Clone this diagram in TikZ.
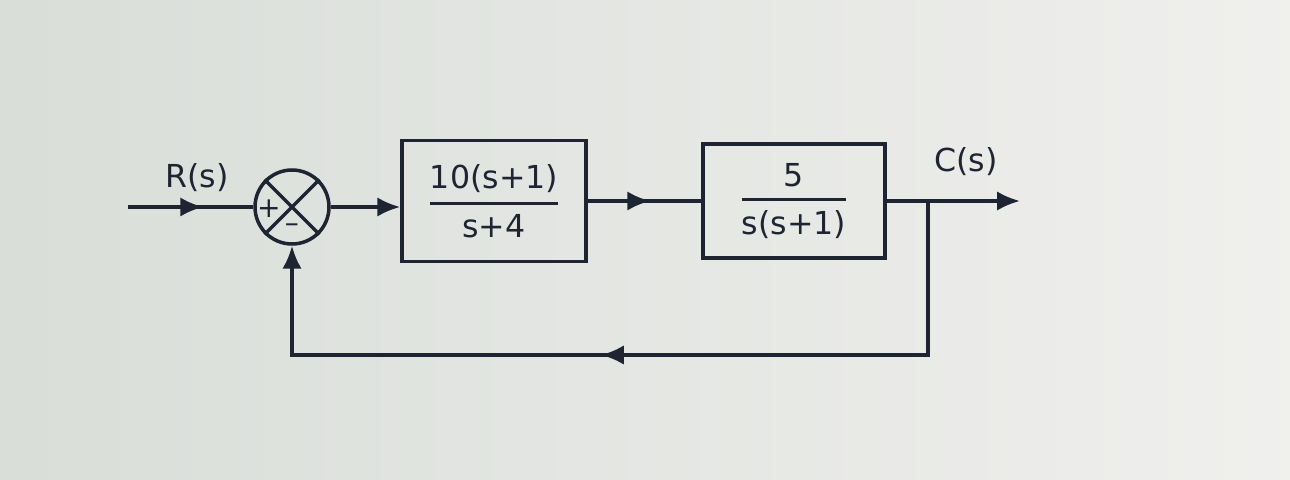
\documentclass[tikz,border=0pt]{standalone}
\usepackage{amsmath}
\usepackage{fontspec}
\setmainfont{DejaVu Sans}
\usetikzlibrary{arrows.meta}
\usetikzlibrary{decorations.markings}
\usetikzlibrary{positioning}
\tikzset{midarrow/.style = {decoration={markings,
                                        mark=at position #1 with {\arrow{Latex[length=6.5pt, width=5.5pt]}}},
                            postaction={decorate}},
         midarrow/.default = 0.5,
         endarrow/.style = {-{Latex[length=6.5pt, width=5.5pt]}}}
\definecolor{mline}{rgb}{0.12, 0.14, 0.2}
\definecolor{bgleft}{rgb}{0.85, 0.87, 0.85}
\definecolor{bgright}{rgb}{0.94, 0.94, 0.93}
\newcommand{\blockfrac}[2]{$\genfrac{}{}{0.9pt}{0}{\text{#1}}{\text{#2}}$}

\begin{document}
\begin{tikzpicture}[mline, line width=1pt, line join=miter,
    block/.style = {draw, rectangle, inner sep=0pt},
    lbl/.style = {font=\fontsize{9}{11}\selectfont},
    sign/.style = {font=\fontsize{8}{9}\selectfont, inner sep=0pt}]
    \fill [left color=bgleft, right color=bgright, draw=none] (0, 0) rectangle (12.9, 4.79);
    \useasboundingbox (0, 0) rectangle (12.9, 4.79);

    \node [draw, circle, minimum size=0.74cm, inner sep=0pt] (sum) at (2.92, 2.72) {};
    \draw (sum.north west) -- (sum.south east);
    \draw (sum.north east) -- (sum.south west);
    \node [sign, xshift=-0.23cm, yshift=-0.02cm] (plus) at (sum.center) {+};
    \node [sign, yshift=-0.21cm] (minus) at (sum.center) {--};

    \node [block, minimum width=1.84cm, minimum height=1.21cm, lbl] (gone) at (4.94, 2.78) {\blockfrac{10(s+1)}{s+4}};
    \node [block, minimum width=1.82cm, minimum height=1.14cm, lbl] (gtwo) at (7.94, 2.78) {\blockfrac{5}{s(s+1)}};

    \coordinate (in) at (1.28, 2.72);
    \coordinate (out) at (10.2, 2.78);
    \coordinate (branch) at (9.28, 2.78);
    \coordinate (fbright) at (9.28, 1.24);
    \coordinate (fbleft) at (sum |- fbright);

    \node [lbl] (rin) at (1.97, 3.01) {R(s)};
    \node [lbl] (cout) at (9.66, 3.17) {C(s)};

    \draw [midarrow=0.6] (in) -- (sum.west);
    \draw [endarrow] (sum.east) -- (sum.east -| gone.west);
    \draw [midarrow=0.55] (gone.east) -- (gtwo.west);
    \draw [endarrow] (gtwo.east) -- (out);
    \draw [endarrow, midarrow=0.535] (branch) -- (fbright) -- (fbleft) -- (sum.south);
  \end{tikzpicture}
\end{document}
